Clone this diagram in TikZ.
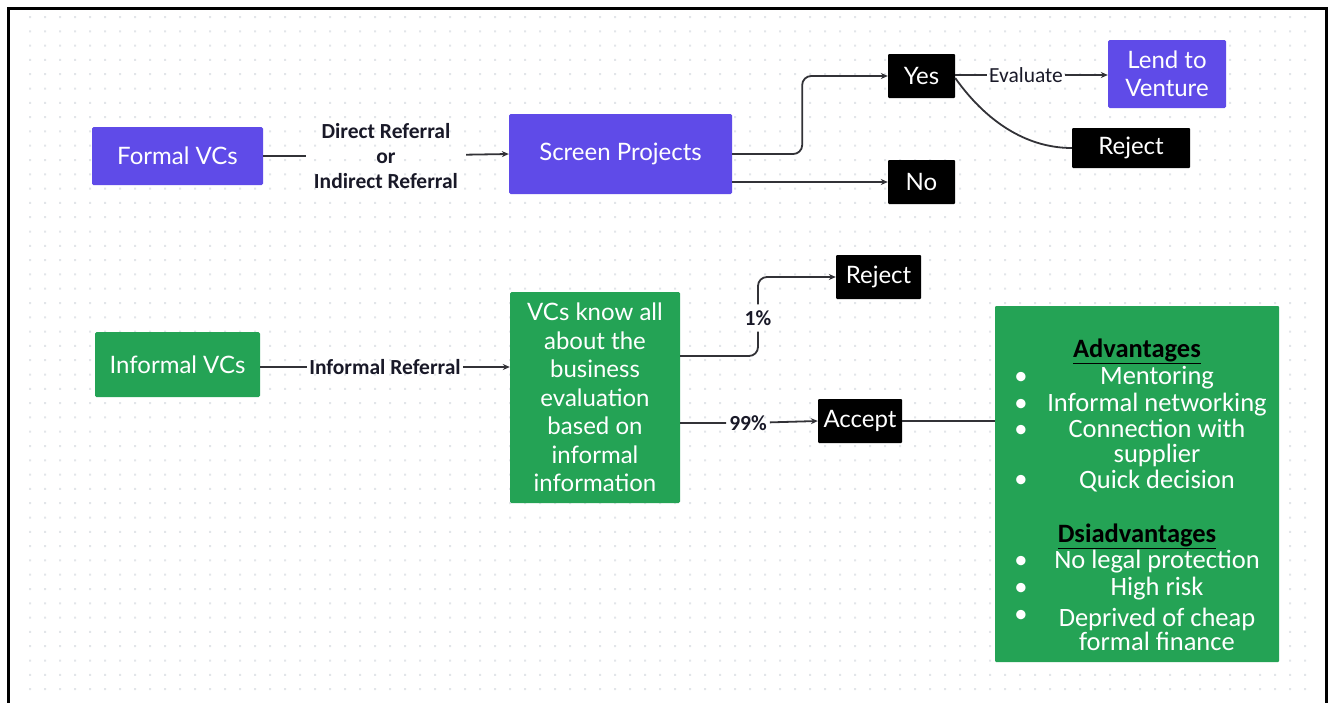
\documentclass[tikz,border=0pt]{standalone}
\usepackage{fontspec}
\setmainfont{Lato}
\newfontfamily\labelfont{Carlito}
\usetikzlibrary{arrows.meta}

\definecolor{vcpurple}{RGB}{95,75,232}
\definecolor{vcgreen}{RGB}{36,163,85}
\definecolor{dotgray}{RGB}{226,229,233}
\definecolor{linkgray}{RGB}{50,50,55}
\definecolor{labelink}{RGB}{25,25,40}

\tikzset{
  box/.style={inner sep=0pt, align=center, text=white, rounded corners=1.5pt,
    font=\fontsize{24}{28.5}\selectfont},
  purplebox/.style={box, fill=vcpurple},
  greenbox/.style={box, fill=vcgreen},
  blackbox/.style={box, fill=black, rounded corners=1pt},
  link/.style={draw=linkgray, line width=1.8pt},
  arrow/.style={link, -{Stealth[length=7pt,width=6pt]}},
  edgelabel/.style={inner sep=2pt, align=center, text=labelink,
    font=\labelfont\bfseries\fontsize{21.5}{25}\selectfont},
  listitem/.style={inner sep=0pt, align=center, text=white,
    font=\labelfont\fontsize{26.5}{24.5}\selectfont},
  listhead/.style={inner sep=0pt, text=black, font=\labelfont\bfseries\fontsize{26.5}{26}\selectfont},
}

\begin{document}
\begin{tikzpicture}[x=1pt,y=1pt]
\useasboundingbox (0,0) rectangle (1333,-702);

% dotted canvas, one path per row
\foreach \j in {0,...,47} {
  \fill[dotgray] \foreach \i in {0,...,85}
    { ({29+15*\i},{-16-14.3*\j}) rectangle ++(2,-2) };
}

% frame
\draw[line width=3pt] (8,-710) -- (8,-8) -- (1326,-8) -- (1326,-710);

% ---- formal route ----
\node[purplebox, minimum width=171pt, minimum height=58pt] (formal) at (177.5,-156) {Formal VCs};
\node[purplebox, minimum width=223pt, minimum height=80pt] (screen) at (620.5,-154) {Screen Projects};
\node[blackbox, minimum width=67pt, minimum height=44pt] (yes) at (921.5,-76) {Yes};
\node[blackbox, minimum width=67pt, minimum height=44pt] (no) at (921.5,-182) {No};
\node[purplebox, minimum width=118pt, minimum height=68pt] (lend) at (1167,-74) {Lend to\\Venture};
\node[blackbox, minimum width=118pt, minimum height=40pt] (rejtop) at (1131,-148) {Reject};

\node[edgelabel, inner xsep=8pt] (reflab) at (386,-156) {Direct Referral\\or\\Indirect Referral};
\node[edgelabel, font=\labelfont\fontsize{21.5}{25}\selectfont, inner xsep=2pt] (evlab) at (1026,-75) {Evaluate};

\draw[arrow] (formal.east) -- (reflab) -- (screen.west);
\draw[arrow, rounded corners=9pt] (screen.east) -- ++(70,0) |- (yes.west);
\draw[arrow] (no.west -| screen.east) -- (no.west);
\draw[arrow] ([yshift=1pt]yes.east) -- (evlab) -- ([yshift=-1pt]lend.west);
\draw[link] ([yshift=-2pt]yes.east) .. controls (985,-120) and (1025,-148) .. (rejtop.west);

% ---- informal route ----
\node[greenbox, minimum width=165pt, minimum height=65pt] (informal) at (177.5,-364.5) {Informal VCs};
\node[greenbox, minimum width=170pt, minimum height=211pt] (know) at (595,-397.5)
  {VCs know all\\about the\\business\\evaluation\\based on\\informal\\information};
\node[blackbox, minimum width=85pt, minimum height=44pt] (rejmid) at (878.5,-277) {Reject};
\node[blackbox, minimum width=84pt, minimum height=44pt] (accept) at (860,-421) {Accept};

\node[edgelabel, inner xsep=2pt] (inflab) at (385,-367) {Informal Referral};
\node[edgelabel, inner ysep=6pt] (onepct) at (758,-318) {1\%};
\node[edgelabel, inner xsep=3pt] (ninetynine) at (748,-423) {99\%};

\draw[arrow] (informal.east |- inflab) -- (inflab) -- (know.west |- inflab);
\draw[link, rounded corners=9pt] ([yshift=41.5pt]know.east) -| (onepct);
\draw[arrow, rounded corners=9pt] (onepct) |- (rejmid.west);
\draw[arrow] ([yshift=-25.5pt]know.east) -- (ninetynine) -- (accept.west);

% ---- advantages and disadvantages ----
\node[greenbox, rounded corners=1pt, minimum width=284pt, minimum height=356pt] (adv) at (1137,-484) {};
\draw[link] (accept.east) -- (adv.west |- accept.east);

\node[listhead] (advhead) at (1137,-351) {\underline{Advantages}};
\node[listhead] (dishead) at (1137,-536) {\underline{Dsiadvantages}};
\foreach \y/\t in {378/Mentoring, 405/Informal networking, 443/{Connection with\\supplier},
    481/Quick decision, 562/No legal protection, 589/High risk,
    629.5/{Deprived of cheap\\formal finance}}
  \node[listitem] at (1157,-\y) {\t};
\foreach \y in {378,405,431,481,562,589,616}
  \node[listitem] at (1021,-\y) {\textbullet};

\end{tikzpicture}
\end{document}
